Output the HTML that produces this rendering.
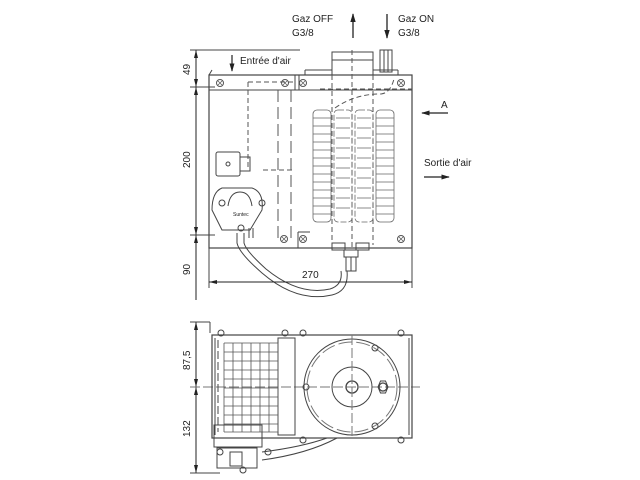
<!DOCTYPE html>
<html><head><meta charset="utf-8"><style>
body{margin:0;background:#fff;width:640px;height:480px;overflow:hidden}
svg{display:block}
text{font-family:"Liberation Sans",sans-serif;fill:#222}
</style></head><body>
<svg width="640" height="480" viewBox="0 0 640 480" xmlns="http://www.w3.org/2000/svg" stroke="#444" fill="none" stroke-width="1">
<defs>
<marker id="ah" viewBox="0 0 10 10" refX="9" refY="5" markerWidth="7" markerHeight="7" orient="auto-start-reverse"><path d="M0,2 L10,5 L0,8 z" fill="#222" stroke="none"/></marker>
<g id="scr"><circle r="3.5" stroke="#555"/><path d="M-2,-2L2,2M-2,2L2,-2" stroke="#555" stroke-width=".7"/></g>
</defs>

<!-- top labels -->
<text x="292" y="22" font-size="10" stroke="none">Gaz OFF</text>
<text x="292" y="36" font-size="10" stroke="none">G3/8</text>
<line x1="353" y1="38" x2="353" y2="14" stroke="#222" stroke-width="1.3" marker-end="url(#ah)"/>
<line x1="387" y1="14" x2="387" y2="38" stroke="#222" stroke-width="1.3" marker-end="url(#ah)"/>
<text x="398" y="22" font-size="10" stroke="none">Gaz ON</text>
<text x="398" y="36" font-size="10" stroke="none">G3/8</text>
<line x1="232" y1="55" x2="232" y2="71" stroke="#222" stroke-width="1.2" marker-end="url(#ah)"/>
<text x="240" y="64" font-size="10" stroke="none">Entrée d'air</text>
<text x="441" y="108" font-size="10" stroke="none">A</text>
<line x1="448" y1="113" x2="422" y2="113" stroke="#222" stroke-width="1.2" marker-end="url(#ah)"/>
<text x="424" y="166" font-size="10" stroke="none">Sortie d'air</text>
<line x1="424" y1="177" x2="449" y2="177" stroke="#222" stroke-width="1.2" marker-end="url(#ah)"/>

<!-- vertical dims top -->
<line x1="196" y1="50" x2="196" y2="300" stroke="#222"/>
<line x1="190" y1="50" x2="300" y2="50"/>
<line x1="190" y1="87" x2="215" y2="87"/>
<line x1="190" y1="235" x2="215" y2="235"/>
<path d="M196,50 l-2,8 h4z M196,87 l-2,-8 h4z M196,87 l-2,8 h4z M196,235 l-2,-8 h4z M196,235 l-2,8 h4z" fill="#222" stroke="none"/>
<text transform="translate(190,75) rotate(-90)" font-size="10" stroke="none">49</text>
<text transform="translate(190,168) rotate(-90)" font-size="10" stroke="none">200</text>
<text transform="translate(190,275) rotate(-90)" font-size="10" stroke="none">90</text>

<!-- top main box -->
<rect x="209" y="75" width="203" height="173" stroke-width="1.2"/>
<line x1="209" y1="90" x2="412" y2="90"/>
<line x1="295" y1="75" x2="295" y2="90"/>
<line x1="299" y1="75" x2="299" y2="90"/>
<line x1="209" y1="75" x2="212" y2="70"/>
<line x1="305" y1="75" x2="305" y2="70"/>
<line x1="305" y1="70" x2="332" y2="70"/>
<line x1="373" y1="70" x2="398" y2="70"/><line x1="398" y1="70" x2="398" y2="75"/>
<use href="#scr" x="220" y="83"/><use href="#scr" x="285" y="83"/><use href="#scr" x="303" y="83"/><use href="#scr" x="401" y="83"/>
<use href="#scr" x="284" y="239"/><use href="#scr" x="303" y="239"/><use href="#scr" x="401" y="239"/>
<line x1="298" y1="232" x2="298" y2="248"/><line x1="298" y1="232" x2="310" y2="232"/>
<!-- pipe & fitting top -->
<rect x="332" y="52" width="41" height="23"/>
<line x1="332" y1="60" x2="373" y2="60"/>
<rect x="380" y="50" width="12" height="22"/>
<line x1="384" y1="50" x2="384" y2="72"/><line x1="388" y1="50" x2="388" y2="72"/>
<!-- dashed internals -->
<g stroke-dasharray="5,3" stroke="#555">
<line x1="248" y1="82" x2="248" y2="170"/><line x1="248" y1="82" x2="295" y2="82"/>
<line x1="263" y1="170" x2="295" y2="170"/>
<line x1="278" y1="90" x2="278" y2="240" stroke-dasharray="12,5"/>
<line x1="291" y1="90" x2="291" y2="240" stroke-dasharray="12,5"/>
<line x1="332" y1="75" x2="332" y2="245"/><line x1="373" y1="75" x2="373" y2="245"/>
<line x1="352" y1="50" x2="352" y2="250"/>
<line x1="320" y1="89" x2="412" y2="89"/>
<path d="M335,108 q20,-14 45,-14 q10,0 14,-15"/>
</g>
<!-- coils -->
<g stroke="#666" stroke-width=".8">
<rect x="313" y="110" width="18" height="112" rx="4"/>
<rect x="334" y="110" width="18" height="112" rx="4" stroke-dasharray="6,2"/>
<rect x="355" y="110" width="18" height="112" rx="4" stroke-dasharray="6,2"/>
<rect x="376" y="110" width="18" height="112" rx="4"/>
<path d="M313,118h18M313,126h18M313,134h18M313,142h18M313,150h18M313,158h18M313,166h18M313,174h18M313,182h18M313,190h18M313,198h18M313,206h18M313,214h18"/>
<path d="M376,118h18M376,126h18M376,134h18M376,142h18M376,150h18M376,158h18M376,166h18M376,174h18M376,182h18M376,190h18M376,198h18M376,206h18M376,214h18"/>
<path d="M336,118h14M336,128h14M336,138h14M336,148h14M336,158h14M336,168h14M336,178h14M336,188h14M336,198h14M336,208h14M357,118h14M357,128h14M357,138h14M357,148h14M357,158h14M357,168h14M357,178h14M357,188h14M357,198h14M357,208h14"/>
</g>
<!-- bottom fitting -->
<rect x="332" y="243" width="13" height="7"/><rect x="356" y="243" width="13" height="7"/>
<rect x="344" y="250" width="14" height="7"/><rect x="346" y="257" width="10" height="14"/>
<line x1="351" y1="257" x2="351" y2="271"/>
<!-- cable -->
<path d="M237,233 v10 q2,10 25,30 q35,30 70,22 q17,-4 15,-24" stroke-width="1"/>
<path d="M244,233 v10 q2,8 22,26 q33,27 64,20 q13,-4 11,-18" stroke-width="1"/>
<!-- connector box -->
<rect x="216" y="152" width="24" height="24" rx="2"/>
<rect x="240" y="157" width="10" height="14"/>
<circle cx="228" cy="164" r="2"/>
<!-- pump -->
<path d="M222,230 l-10,-20 q0,-18 10,-22 h30 q12,4 10,22 l-12,20 z"/>
<path d="M228,206 q2,-14 12,-14 q10,0 12,14"/>
<circle cx="222" cy="203" r="3"/><circle cx="262" cy="203" r="3"/><circle cx="241" cy="228" r="3"/>
<line x1="249" y1="228" x2="249" y2="238"/><line x1="253" y1="228" x2="253" y2="238"/>
<text x="233" y="216" font-size="5" stroke="none">Suntec</text>

<!-- 270 dimension -->
<line x1="209" y1="248" x2="209" y2="288"/><line x1="412" y1="248" x2="412" y2="288"/>
<line x1="209" y1="282" x2="412" y2="282" stroke="#222"/>
<path d="M209,282 l8,-2 v4z M412,282 l-8,-2 v4z" fill="#222" stroke="none"/>
<text x="302" y="278" font-size="10" stroke="none">270</text>

<!-- BOTTOM VIEW -->
<line x1="196" y1="322" x2="196" y2="473" stroke="#222"/>
<line x1="190" y1="322" x2="210" y2="322"/><line x1="210" y1="322" x2="210" y2="333"/>
<line x1="190" y1="387" x2="420" y2="387" stroke-dasharray="10,3" stroke="#777"/>
<line x1="190" y1="473" x2="220" y2="473"/>
<path d="M196,322 l-2,8 h4z M196,387 l-2,-8 h4z M196,387 l-2,8 h4z M196,473 l-2,-8 h4z" fill="#222" stroke="none"/>
<text transform="translate(190,370) rotate(-90)" font-size="10" stroke="none">87,5</text>
<text transform="translate(190,437) rotate(-90)" font-size="10" stroke="none">132</text>

<rect x="212" y="335" width="200" height="103" stroke-width="1.2"/>
<rect x="278" y="338" width="17" height="97"/>
<line x1="215" y1="338" x2="215" y2="435"/><line x1="409" y1="338" x2="409" y2="435"/>
<circle cx="221" cy="333" r="3"/><circle cx="285" cy="333" r="3"/><circle cx="303" cy="333" r="3"/><circle cx="401" cy="333" r="3"/>
<circle cx="303" cy="440" r="3"/><circle cx="401" cy="440" r="3"/>
<!-- grid -->
<g stroke="#555" stroke-width=".8">
<path d="M224,343h54M224,352h54M224,361h54M224,370h54M224,379h54M224,388h54M224,397h54M224,406h54M224,415h54M224,424h54M224,432h54"/>
<path d="M224,343v89M233,343v89M242,343v89M251,343v89M260,343v89M269,343v89M278,343v89"/>
</g>
<line x1="218" y1="340" x2="218" y2="432" stroke-dasharray="8,3"/>
<!-- circle -->
<circle cx="352" cy="387" r="48"/>
<circle cx="352" cy="387" r="45" stroke-dasharray="14,4" stroke="#777"/>
<circle cx="352" cy="387" r="20"/>
<circle cx="352" cy="387" r="6" stroke-width="1.3"/>
<line x1="352" y1="335" x2="352" y2="438" stroke-dasharray="10,3" stroke="#777"/>
<polygon points="378,387 380.5,381 385.5,381 388,387 385.5,393 380.5,393"/>
<circle cx="383" cy="387" r="4" stroke-width="1.3"/>
<circle cx="306" cy="387" r="3"/><circle cx="375" cy="348" r="3"/><circle cx="375" cy="426" r="3"/>
<!-- bottom bracket -->
<rect x="214" y="425" width="48" height="22"/>
<rect x="217" y="448" width="40" height="20"/>
<rect x="230" y="452" width="12" height="14"/>
<circle cx="220" cy="452" r="3"/><circle cx="268" cy="452" r="3"/><circle cx="243" cy="470" r="3"/>
<path d="M262,452 q40,-5 65,-14 M262,460 q45,-6 75,-22"/>
</svg>
</body></html>
